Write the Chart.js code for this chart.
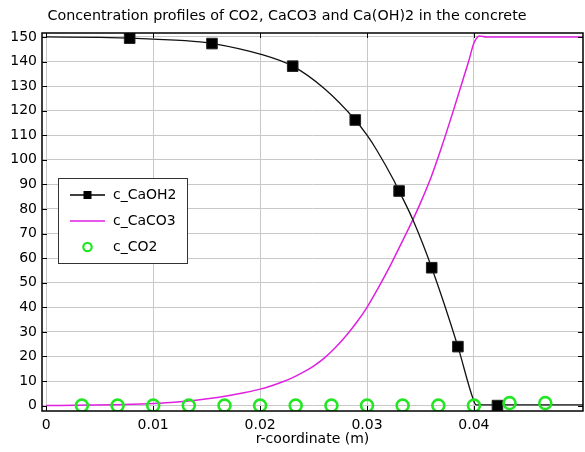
<!DOCTYPE html>
<html>
<head>
<meta charset="utf-8">
<script src="https://cdn.jsdelivr.net/npm/chart.js@4.4.1/dist/chart.umd.min.js"></script>
<style>
  html, body { margin: 0; padding: 0; background: #fff; }
  #wrap { width: 585px; height: 452px; }
</style>
</head>
<body>
<div id="wrap"><canvas id="chart" width="585" height="452"></canvas></div>
<script>
// c_CaOH2 curve (m, mol/m3)
const caohX = [0, 0.005, 0.0078, 0.01, 0.0144, 0.0155, 0.02, 0.02305, 0.026, 0.0289, 0.03, 0.0309, 0.0325, 0.033, 0.0343, 0.03605, 0.0385, 0.0399, 0.0402, 0.045, 0.0502];
const caohY = [150, 149.8, 149.5, 149.1, 148.0, 147.4, 143.0, 138.1, 129.0, 116.2, 110.0, 104.0, 91.7, 87.3, 75.5, 56.1, 24.0, 3.0, 0.3, 0.3, 0.3];
// c_CaOH2 markers
const markX = [0.0078, 0.0155, 0.02305, 0.0289, 0.033, 0.03605, 0.0385, 0.0422];
const markY = [149.5, 147.3, 138.1, 116.2, 87.3, 56.1, 24.0, 0.0];
// c_CaCO3 curve
const caco3X = [0, 0.004, 0.008, 0.01, 0.012, 0.014, 0.016, 0.018, 0.02, 0.021, 0.022, 0.023, 0.024, 0.025, 0.026, 0.027, 0.028, 0.029, 0.03, 0.031, 0.032, 0.033, 0.034, 0.035, 0.036, 0.037, 0.038, 0.039, 0.0395, 0.04, 0.0405, 0.0412, 0.0502];
const caco3Y = [0, 0.2, 0.55, 0.9, 1.4, 2.2, 3.3, 4.8, 6.7, 8.0, 9.5, 11.3, 13.5, 16.1, 19.3, 23.4, 28.2, 33.7, 40.0, 47.5, 55.5, 64.2, 73.0, 82.5, 93.0, 105.5, 119.0, 133.0, 140.0, 147.5, 150.4, 150.0, 150.0];
// c_CO2 markers
const co2X = [0.00333, 0.00667, 0.01, 0.01333, 0.01667, 0.02, 0.02333, 0.02667, 0.03, 0.03333, 0.03667, 0.04, 0.04333, 0.04667];
const co2Y = [0, 0, 0, 0, 0, 0, 0, 0, 0, 0, 0, 0, 1, 1];

const xTicks = [0, 0.01, 0.02, 0.03, 0.04];
const yTicks = [0, 10, 20, 30, 40, 50, 60, 70, 80, 90, 100, 110, 120, 130, 140, 150];

const FONT = "'DejaVu Sans', sans-serif";
const MAGENTA = '#e020e0';
const GREEN = '#22e622';

function pts(xs, ys) {
    return xs.map((x, i) => ({ x: x, y: ys[i] }));
}

// Title, frame with inner ticks, and the boxed legend
const decorPlugin = {
    id: 'decor',
    afterDraw(chart) {
        const ctx = chart.ctx;
        const a = chart.chartArea;
        const xs = chart.scales.x, ys = chart.scales.y;
        ctx.save();

        ctx.fillStyle = '#000';
        ctx.font = '14.3px ' + FONT;
        ctx.textAlign = 'center';
        ctx.textBaseline = 'middle';
        ctx.fillText('Concentration profiles of CO2, CaCO3 and Ca(OH)2 in the concrete', 287, 16);

        ctx.strokeStyle = '#000';
        ctx.lineWidth = 1;
        const t = 5;
        ctx.beginPath();
        xTicks.forEach(v => {
            const px = Math.round(xs.getPixelForValue(v)) + 0.5;
            ctx.moveTo(px, a.top); ctx.lineTo(px, a.top + t);
            ctx.moveTo(px, a.bottom); ctx.lineTo(px, a.bottom - t);
        });
        yTicks.forEach(v => {
            const py = Math.round(ys.getPixelForValue(v)) + 0.5;
            ctx.moveTo(a.left, py); ctx.lineTo(a.left + t, py);
            ctx.moveTo(a.right, py); ctx.lineTo(a.right - t, py);
        });
        ctx.stroke();

        ctx.lineWidth = 1.5;
        ctx.strokeRect(a.left, a.top, a.right - a.left, a.bottom - a.top);

        // legend
        const lx = 58.5, ly = 178.5, lw = 129, lh = 85;
        ctx.fillStyle = '#fff';
        ctx.fillRect(lx, ly, lw, lh);
        ctx.strokeStyle = '#333';
        ctx.lineWidth = 1;
        ctx.strokeRect(lx, ly, lw, lh);

        const rows = [195, 221, 247];
        ctx.lineWidth = 1.5;
        ctx.strokeStyle = '#000';
        ctx.beginPath(); ctx.moveTo(70, rows[0]); ctx.lineTo(105, rows[0]); ctx.stroke();
        ctx.fillStyle = '#000';
        ctx.fillRect(83.5, rows[0] - 4, 8, 8);
        ctx.strokeStyle = MAGENTA;
        ctx.beginPath(); ctx.moveTo(70, rows[1]); ctx.lineTo(105, rows[1]); ctx.stroke();
        ctx.strokeStyle = GREEN;
        ctx.lineWidth = 2.2;
        ctx.beginPath(); ctx.arc(87.5, rows[2], 4.2, 0, Math.PI * 2); ctx.stroke();

        ctx.fillStyle = '#000';
        ctx.font = '14px ' + FONT;
        ctx.textAlign = 'left';
        ctx.fillText('c_CaOH2', 113, rows[0]);
        ctx.fillText('c_CaCO3', 113, rows[1]);
        ctx.fillText('c_CO2', 113, rows[2]);
        ctx.restore();
    }
};

const chart = new Chart(document.getElementById('chart').getContext('2d'), {
    type: 'line',
    data: {
        datasets: [
            {
                label: 'c_CaOH2 markers',
                type: 'scatter',
                data: pts(markX, markY),
                pointStyle: 'rect',
                pointRadius: 7.5,
                backgroundColor: '#000',
                borderColor: '#222',
                borderWidth: 1,
                showLine: false,
                order: 1
            },
            {
                label: 'c_CO2',
                type: 'scatter',
                data: pts(co2X, co2Y),
                pointStyle: 'circle',
                pointRadius: 6,
                backgroundColor: 'rgba(0,0,0,0)',
                borderColor: GREEN,
                borderWidth: 2.6,
                showLine: false,
                order: 0
            },
            {
                label: 'c_CaOH2',
                data: pts(caohX, caohY),
                borderColor: '#111',
                borderWidth: 1.3,
                pointRadius: 0,
                cubicInterpolationMode: 'monotone',
                order: 2
            },
            {
                label: 'c_CaCO3',
                data: pts(caco3X, caco3Y),
                borderColor: MAGENTA,
                borderWidth: 1.5,
                pointRadius: 0,
                cubicInterpolationMode: 'monotone',
                order: 3
            }
        ]
    },
    options: {
        responsive: false,
        animation: false,
        layout: { autoPadding: false, padding: { top: 33, right: 2, left: 0, bottom: 0 } },
        plugins: {
            legend: { display: false },
            title: { display: false },
            tooltip: { enabled: false }
        },
        scales: {
            x: {
                type: 'linear',
                min: -0.0004,
                max: 0.0502,
                afterBuildTicks: s => { s.ticks = xTicks.map(v => ({ value: v })); },
                afterFit: s => { s.height = 41; s.paddingLeft = 0; s.paddingRight = 0; },
                grid: { color: '#c8c8c8', drawTicks: false },
                border: { display: false },
                ticks: {
                    padding: 6,
                    color: '#000',
                    font: { family: FONT, size: 14 },
                    maxRotation: 0,
                    callback: v => v === 0 ? '0' : v.toFixed(2)
                },
                title: {
                    display: true,
                    text: 'r-coordinate (m)',
                    color: '#000',
                    font: { family: FONT, size: 14 },
                    padding: { top: 0, bottom: 4 }
                }
            },
            y: {
                min: -2.2,
                max: 151.6,
                afterBuildTicks: s => { s.ticks = yTicks.map(v => ({ value: v })); },
                afterFit: s => { s.width = 42; },
                grid: { color: '#c8c8c8', drawTicks: false },
                border: { display: false },
                ticks: {
                    padding: 5,
                    color: '#000',
                    font: { family: FONT, size: 14 }
                }
            }
        }
    },
    plugins: [decorPlugin]
});
</script>
</body>
</html>
